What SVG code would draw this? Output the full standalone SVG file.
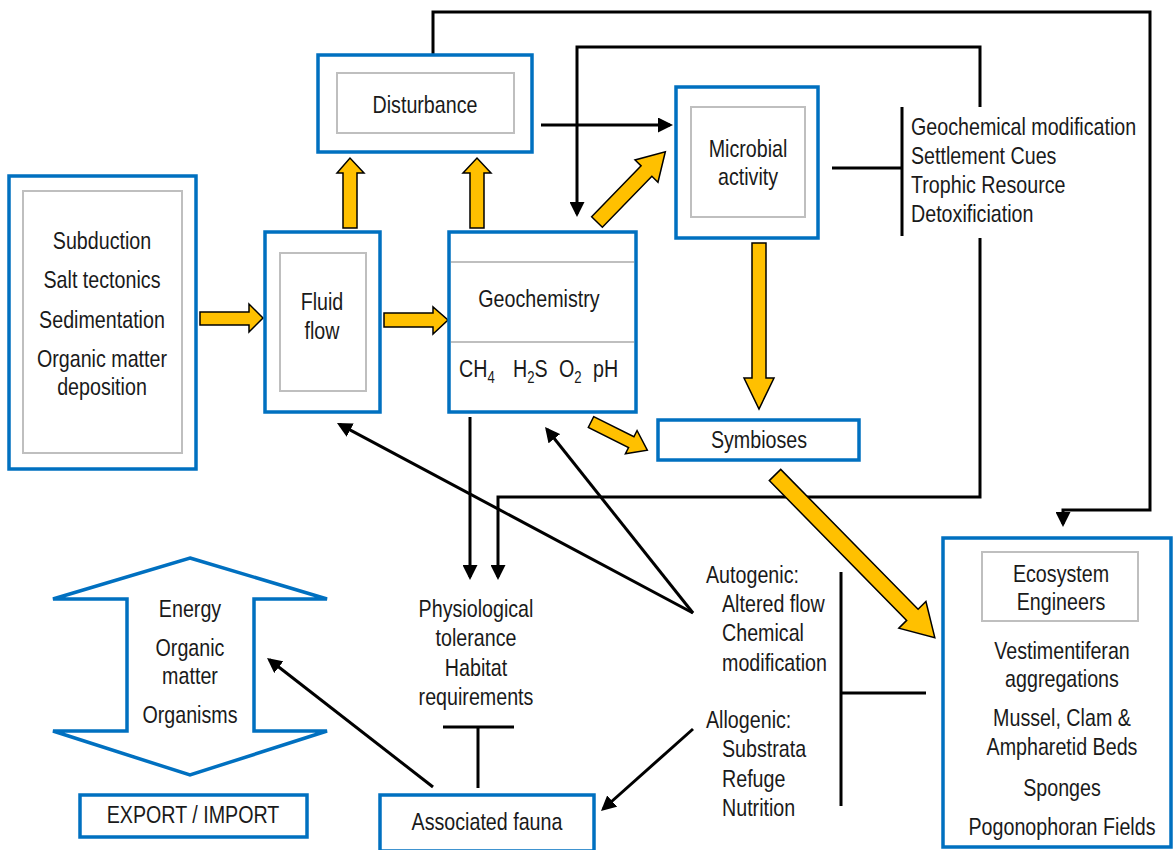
<svg xmlns="http://www.w3.org/2000/svg" width="1175" height="850" viewBox="0 0 1175 850">
<defs>
<style>
.ob{fill:#fff;stroke:#0070C0;stroke-width:3.5}
.ib{fill:#fff;stroke:#BFBFBF;stroke-width:2}
.gl{stroke:#BFBFBF;stroke-width:2}
.t{font-family:"Liberation Sans",Arial,sans-serif;font-size:24px;fill:#1a1a1a}
.c{text-anchor:middle}
.sub{font-size:16px}
.ya{fill:#FFC000;stroke:#000;stroke-width:1.5;stroke-linejoin:miter}
.bl{fill:none;stroke:#000;stroke-width:3}
.ar{marker-end:url(#ah)}
</style>
<marker id="ah" viewBox="0 0 10 10" refX="8" refY="5" markerWidth="5" markerHeight="5" orient="auto">
<path d="M0,0 L10,5 L0,10 z" fill="#000"/>
</marker>
</defs>
<rect width="1175" height="850" fill="#fff"/>

<g id="connectors">
<path class="bl ar" d="M433,55 V12 H1150 V510 H1063 V524"/>
<path class="bl ar" d="M980,107 V47 H577 V214"/>
<path class="bl ar" d="M980,238 V497 H498 V577"/>
<path class="bl ar" d="M470,417 V577"/>
<path class="bl ar" d="M541,125 H670"/>
<path class="bl ar" d="M693,613 L339.6,424.4"/>
<path class="bl ar" d="M693,613 L546.9,429.3"/>
<path class="bl ar" d="M693,729 L603.2,809"/>
<path class="bl ar" d="M433,787 L269.4,659.8"/>
<path class="bl" d="M832,168 H902 M902,107 V236"/>
<path class="bl" d="M841,572 V806 M841,693 H926"/>
<path class="bl" d="M443,727 H514 M478,727 V788"/>
<polygon class="ya" points="200,312 249,312 249,304 263,318 249,332 249,325 200,325"/>
<polygon class="ya" points="384,313 433,313 433,307 448,320 433,334 433,327 384,327"/>
<polygon class="ya" points="343,228 343,173 337,173 350,158 364,173 357,173 357,228"/>
<polygon class="ya" points="470,228 470,173 463,173 477,158 491,173 484,173 484,228"/>
<polygon class="ya" points="752,243 766,243 766,378 774,378 759,409 744,378 752,378"/>
<polygon class="ya" transform="translate(597,222) rotate(-45.8)" points="0,-7.5 71,-7.5 71,-16 98,0 71,16 71,7.5 0,7.5"/>
<polygon class="ya" transform="translate(591,422) rotate(26.6)" points="0,-6 45,-6 45,-13 63,0 45,13 45,6 0,6"/>
<polygon class="ya" transform="translate(775,475) rotate(45.5)" points="0,-8 196,-8 196,-19 228,0 196,19 196,8 0,8"/>
</g>

<g id="drivers">
<rect class="ob" x="9" y="176" width="187" height="293"/>
<rect class="ib" x="23" y="191" width="159" height="262"/>
<text class="t c" transform="scale(0.82 1)" x="124.39" y="249">Subduction</text>
<text class="t c" transform="scale(0.82 1)" x="124.39" y="288">Salt tectonics</text>
<text class="t c" transform="scale(0.82 1)" x="124.39" y="328">Sedimentation</text>
<text class="t c" transform="scale(0.82 1)" x="124.39" y="367">Organic matter</text>
<text class="t c" transform="scale(0.82 1)" x="124.39" y="395">deposition</text>
</g>

<g id="fluid-flow">
<rect class="ob" x="265" y="232" width="115" height="180"/>
<rect class="ib" x="280" y="253" width="86" height="138"/>
<text class="t c" transform="scale(0.82 1)" x="392.68" y="310">Fluid</text>
<text class="t c" transform="scale(0.82 1)" x="392.68" y="339">flow</text>
</g>

<g id="geochemistry">
<rect class="ob" x="449" y="232" width="187" height="180"/>
<line class="gl" x1="451" y1="262" x2="634" y2="262"/>
<line class="gl" x1="451" y1="342" x2="634" y2="342"/>
<text class="t c" transform="scale(0.82 1)" x="657.32" y="307">Geochemistry</text>
<text class="t" transform="scale(0.82 1)" x="559.76" y="377">CH<tspan class="sub" dy="6">4</tspan></text>
<text class="t" transform="scale(0.82 1)" x="625.61" y="377">H<tspan class="sub" dy="6">2</tspan><tspan dy="-6">S</tspan></text>
<text class="t" transform="scale(0.82 1)" x="681.71" y="377">O<tspan class="sub" dy="6">2</tspan></text>
<text class="t" transform="scale(0.82 1)" x="723.17" y="377">pH</text>
</g>

<g id="disturbance">
<rect class="ob" x="318" y="55" width="214" height="97"/>
<rect class="ib" x="337" y="73" width="177" height="60"/>
<text class="t c" transform="scale(0.82 1)" x="518.29" y="113">Disturbance</text>
</g>

<g id="microbial">
<rect class="ob" x="676" y="87" width="142" height="151"/>
<rect class="ib" x="691" y="107" width="114" height="110"/>
<text class="t c" transform="scale(0.82 1)" x="912.20" y="157">Microbial</text>
<text class="t c" transform="scale(0.82 1)" x="912.20" y="185">activity</text>
</g>

<g id="microbial-effects">
<text class="t" transform="scale(0.82 1)" x="1110.98" y="135">Geochemical modification</text>
<text class="t" transform="scale(0.82 1)" x="1110.98" y="164">Settlement Cues</text>
<text class="t" transform="scale(0.82 1)" x="1110.98" y="193">Trophic Resource</text>
<text class="t" transform="scale(0.82 1)" x="1110.98" y="222">Detoxificiation</text>
</g>

<g id="symbioses">
<rect class="ob" x="658" y="420" width="201" height="40"/>
<text class="t c" transform="scale(0.82 1)" x="925.61" y="448">Symbioses</text>
</g>

<g id="ecosystem-engineers">
<rect class="ob" x="943" y="538" width="228" height="309"/>
<rect class="ib" x="982" y="552" width="156" height="69"/>
<text class="t c" transform="scale(0.82 1)" x="1293.90" y="582">Ecosystem</text>
<text class="t c" transform="scale(0.82 1)" x="1293.90" y="610">Engineers</text>
<text class="t c" transform="scale(0.82 1)" x="1295.12" y="659">Vestimentiferan</text>
<text class="t c" transform="scale(0.82 1)" x="1295.12" y="687">aggregations</text>
<text class="t c" transform="scale(0.82 1)" x="1295.12" y="726">Mussel, Clam &amp;</text>
<text class="t c" transform="scale(0.82 1)" x="1295.12" y="755">Ampharetid Beds</text>
<text class="t c" transform="scale(0.82 1)" x="1295.12" y="796">Sponges</text>
<text class="t c" transform="scale(0.82 1)" x="1295.12" y="835">Pogonophoran Fields</text>
</g>

<g id="engineering">
<text class="t" transform="scale(0.82 1)" x="860.98" y="583">Autogenic:</text>
<text class="t" transform="scale(0.82 1)" x="880.49" y="612">Altered flow</text>
<text class="t" transform="scale(0.82 1)" x="880.49" y="641">Chemical</text>
<text class="t" transform="scale(0.82 1)" x="880.49" y="671">modification</text>
<text class="t" transform="scale(0.82 1)" x="860.98" y="728">Allogenic:</text>
<text class="t" transform="scale(0.82 1)" x="880.49" y="757">Substrata</text>
<text class="t" transform="scale(0.82 1)" x="880.49" y="787">Refuge</text>
<text class="t" transform="scale(0.82 1)" x="880.49" y="816">Nutrition</text>
</g>

<g id="physiology">
<text class="t c" transform="scale(0.82 1)" x="580.49" y="617">Physiological</text>
<text class="t c" transform="scale(0.82 1)" x="580.49" y="646">tolerance</text>
<text class="t c" transform="scale(0.82 1)" x="580.49" y="676">Habitat</text>
<text class="t c" transform="scale(0.82 1)" x="580.49" y="705">requirements</text>
</g>

<g id="associated-fauna">
<rect class="ob" x="380" y="795" width="214" height="56"/>
<text class="t c" transform="scale(0.82 1)" x="593.90" y="830">Associated fauna</text>
</g>

<g id="export-arrow">
<polygon class="ob" points="190,558 327,599 254,599 254,731 327,731 190,775 53,731 127,731 127,599 53,599"/>
<text class="t c" transform="scale(0.82 1)" x="231.71" y="617">Energy</text>
<text class="t c" transform="scale(0.82 1)" x="231.71" y="656">Organic</text>
<text class="t c" transform="scale(0.82 1)" x="231.71" y="684">matter</text>
<text class="t c" transform="scale(0.82 1)" x="231.71" y="723">Organisms</text>
</g>

<g id="export-import">
<rect class="ob" x="80" y="795" width="227" height="42"/>
<text class="t c" transform="scale(0.82 1)" x="235.37" y="823">EXPORT / IMPORT</text>
</g>
</svg>
